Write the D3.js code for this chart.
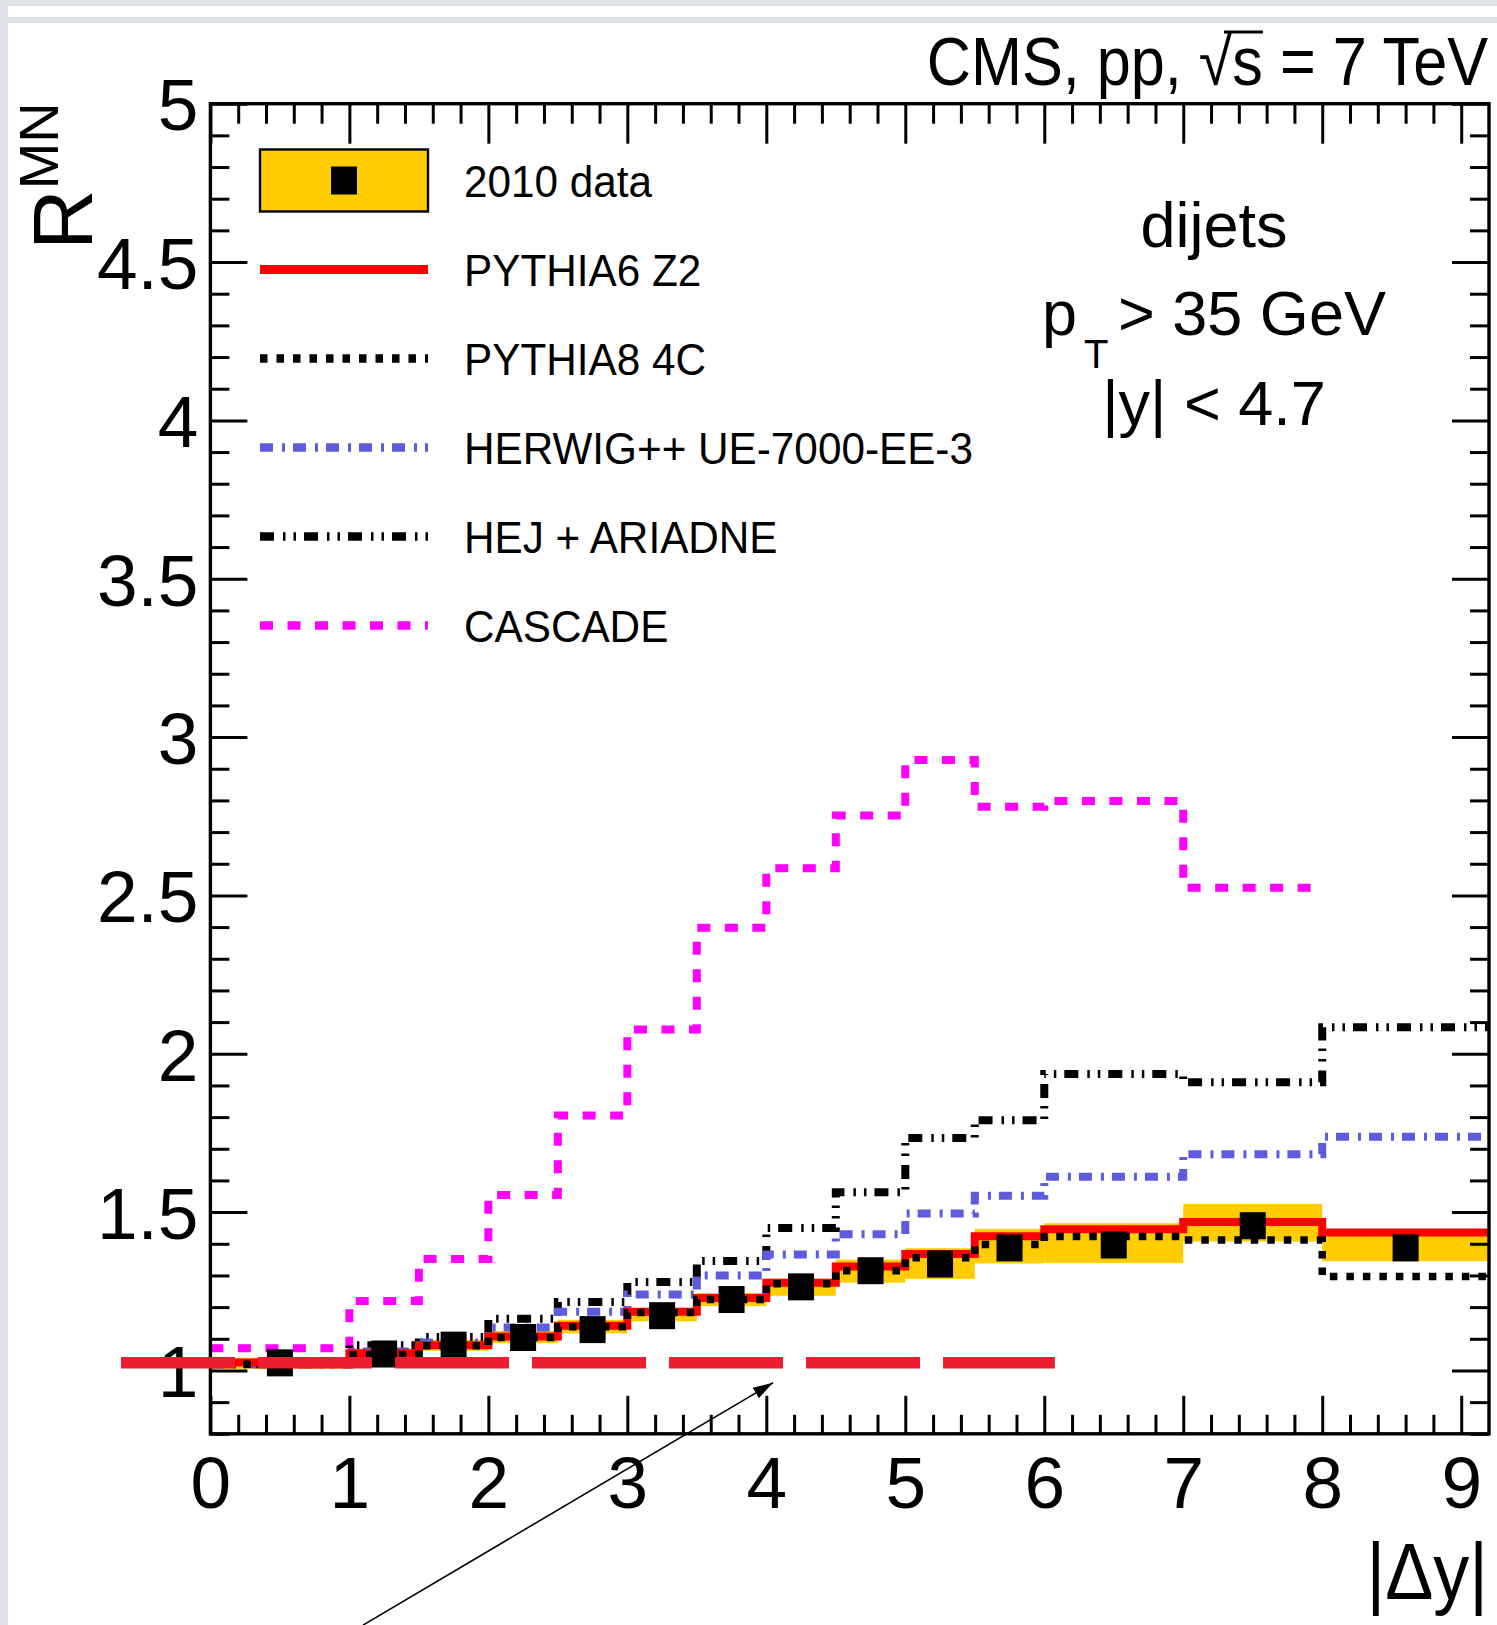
<!DOCTYPE html>
<html>
<head>
<meta charset="utf-8">
<title>R MN vs |Δy|</title>
<script src="https://cdn.jsdelivr.net/npm/d3@7"></script>
<style>
  html, body { margin: 0; padding: 0; background: #fff; }
  svg { display: block; font-family: "Liberation Sans", Arial, Helvetica, sans-serif; }
</style>
</head>
<body>
<div id="chart"></div>
<script>
// bin edges in |Δy|
const binEdges = [0, 1, 1.5, 2, 2.5, 3, 3.5, 4, 4.5, 5, 5.5, 6, 7, 8, 9.2];

// 2010 data: marker positions, values and uncertainty band
const dataX = [0.5, 1.25, 1.75, 2.25, 2.75, 3.25, 3.75, 4.25, 4.75, 5.25, 5.75, 6.5, 7.5, 8.6];
const dataR = [1.024, 1.052, 1.080, 1.104, 1.129, 1.173, 1.224, 1.264, 1.315, 1.336, 1.387, 1.396, 1.457, 1.387];
const dataLow = [1.005, 1.038, 1.062, 1.086, 1.117, 1.155, 1.203, 1.236, 1.277, 1.289, 1.338, 1.339, 1.407, 1.345];
const dataHigh = [1.040, 1.068, 1.097, 1.125, 1.160, 1.195, 1.245, 1.290, 1.350, 1.386, 1.447, 1.465, 1.526, 1.430];

// model predictions per bin
const pythia6 = [1.025, 1.054, 1.080, 1.107, 1.141, 1.185, 1.229, 1.277, 1.328, 1.368, 1.424, 1.446, 1.469, 1.436];
const pythia8 = [1.020, 1.050, 1.078, 1.104, 1.138, 1.183, 1.224, 1.274, 1.315, 1.356, 1.398, 1.423, 1.412, 1.297];
const herwig  = [1.020, 1.060, 1.088, 1.136, 1.185, 1.240, 1.300, 1.366, 1.430, 1.496, 1.552, 1.612, 1.683, 1.738];
const hej     = [1.020, 1.080, 1.106, 1.163, 1.216, 1.279, 1.346, 1.450, 1.563, 1.734, 1.790, 1.936, 1.910, 2.084];
const cascade = [1.070, 1.219, 1.352, 1.554, 1.805, 2.077, 2.398, 2.586, 2.752, 2.928, 2.780, 2.798, 2.524];

// annotations drawn over the plot (in data coordinates)
const refLineX = [-0.643, 6.076];
const refLineY = 1.024;
const arrowFrom = [1.098, 0.196];
const arrowTo = [4.048, 0.961];

const xTicks = [0, 1, 2, 3, 4, 5, 6, 7, 8, 9];
const yTicks = [1, 1.5, 2, 2.5, 3, 3.5, 4, 4.5, 5];
const legendLabels = ["2010 data", "PYTHIA6 Z2", "PYTHIA8 4C", "HERWIG++ UE-7000-EE-3", "HEJ + ARIADNE", "CASCADE"];

const W = 1497, H = 1625;
const padL = 210.4, padR = 1489, padT = 103.7, padB = 1433.8;

const x = d3.scaleLinear().domain([0, 9.2]).range([padL, padR]);
const y = d3.scaleLinear().domain([0.8, 5]).range([padB, padT]);

const svg = d3.select("#chart").append("svg")
  .attr("width", W).attr("height", H)
  .attr("viewBox", [0, 0, W, H]);

// page border strips
const grey = "#dee1e6";
svg.append("rect").attr("width", W).attr("height", H).attr("fill", "#fff");
svg.append("rect").attr("x", 0).attr("y", 0).attr("width", W).attr("height", 6).attr("fill", grey);
svg.append("rect").attr("x", 0).attr("y", 17).attr("width", W).attr("height", 6).attr("fill", grey);
svg.append("rect").attr("x", 0).attr("y", 0).attr("width", 8).attr("height", H).attr("fill", grey);

svg.append("clipPath").attr("id", "frame")
  .append("rect").attr("x", padL).attr("y", padT).attr("width", padR - padL).attr("height", padB - padT);

const plot = svg.append("g").attr("clip-path", "url(#frame)");

// yellow uncertainty band
plot.append("g").selectAll("rect")
  .data(dataLow.map((lo, i) => ({ x0: binEdges[i], x1: binEdges[i + 1], lo, hi: dataHigh[i] })))
  .join("rect")
  .attr("x", d => x(d.x0))
  .attr("width", d => x(d.x1) - x(d.x0))
  .attr("y", d => y(d.hi))
  .attr("height", d => y(d.lo) - y(d.hi))
  .attr("fill", "#ffcc00");

const stepPoints = vals => vals.flatMap((v, i) => [[binEdges[i], v], [binEdges[i + 1], v]]);
const line = d3.line().x(d => x(d[0])).y(d => y(d[1]));

const series = [
  { vals: cascade, color: "#ff00ff", dash: "13 14.5", width: 8 },
  { vals: hej, color: "#000", dash: "14 9 2.5 8 2.5 8", width: 8 },
  { vals: herwig, color: "#5c5cdc", dash: "13 9 3 8", width: 8 },
  { vals: pythia6, color: "#ff0000", dash: null, width: 8 },
  { vals: pythia8, color: "#000", dash: "7.5 9", width: 7.5 }
];

plot.append("g").selectAll("path")
  .data(series)
  .join("path")
  .attr("fill", "none")
  .attr("stroke", d => d.color)
  .attr("stroke-width", d => d.width)
  .attr("stroke-dasharray", d => d.dash)
  .attr("d", d => line(stepPoints(d.vals)));

// data markers
plot.append("g").selectAll("rect")
  .data(dataX.map((v, i) => [v, dataR[i]]))
  .join("rect")
  .attr("x", d => x(d[0]) - 13)
  .attr("y", d => y(d[1]) - 13.5)
  .attr("width", 26).attr("height", 27)
  .attr("fill", "#000");

// ticks (inward, ROOT style)
function styleTicks(g) {
  g.select(".domain").remove();
  g.selectAll(".tick line").attr("stroke", "#000").attr("stroke-width", 3);
}
const xMinor = d3.range(0, 47).map(i => i / 5).filter(v => v < 9.15 && Math.abs(v - Math.round(v)) > 1e-6);
const yMinor = d3.range(8, 51).map(i => i / 10).filter(v => Math.round(v * 10) % 5 !== 0);

svg.append("g").attr("transform", `translate(0,${padB})`)
  .call(d3.axisBottom(x).tickValues(xTicks).tickSize(-38).tickFormat(d3.format("d")))
  .call(styleTicks)
  .call(g => g.selectAll("text").attr("y", 74).attr("dy", null)
    .attr("font-size", 73).attr("fill", "#000").attr("font-family", "Liberation Sans, Arial, sans-serif"));
svg.append("g").attr("transform", `translate(0,${padB})`)
  .call(d3.axisBottom(x).tickValues(xMinor).tickSize(-19).tickFormat(""))
  .call(styleTicks);
svg.append("g").attr("transform", `translate(0,${padT})`)
  .call(d3.axisTop(x).tickValues(xTicks).tickSize(-40).tickFormat(""))
  .call(styleTicks);
svg.append("g").attr("transform", `translate(0,${padT})`)
  .call(d3.axisTop(x).tickValues(xMinor).tickSize(-20).tickFormat(""))
  .call(styleTicks);

svg.append("g").attr("transform", `translate(${padL},0)`)
  .call(d3.axisLeft(y).tickValues(yTicks).tickSize(-37).tickFormat(d => String(d)))
  .call(styleTicks)
  .call(g => g.selectAll("text").attr("x", -12).attr("dy", "0.36em")
    .attr("font-size", 73).attr("fill", "#000").attr("font-family", "Liberation Sans, Arial, sans-serif"));
svg.append("g").attr("transform", `translate(${padL},0)`)
  .call(d3.axisLeft(y).tickValues(yMinor).tickSize(-19).tickFormat(""))
  .call(styleTicks);
svg.append("g").attr("transform", `translate(${padR},0)`)
  .call(d3.axisRight(y).tickValues(yTicks).tickSize(-37).tickFormat(""))
  .call(styleTicks);
svg.append("g").attr("transform", `translate(${padR},0)`)
  .call(d3.axisRight(y).tickValues(yMinor).tickSize(-19).tickFormat(""))
  .call(styleTicks);

// frame
svg.append("rect")
  .attr("x", padL).attr("y", padT).attr("width", padR - padL).attr("height", padB - padT)
  .attr("fill", "none").attr("stroke", "#000").attr("stroke-width", 3.4);

// legend
const legend = svg.append("g");
const legX0 = 260, legX1 = 428, legTop = 180.5, legStep = 89, legText = 464;
const legendStyles = [null, series[3], series[4], series[2], series[1], series[0]];
legendLabels.forEach((label, i) => {
  const cy = legTop + i * legStep;
  if (i === 0) {
    legend.append("rect").attr("x", legX0).attr("y", cy - 31).attr("width", legX1 - legX0).attr("height", 62)
      .attr("fill", "#ffcc00").attr("stroke", "#000").attr("stroke-width", 2.4);
    legend.append("rect").attr("x", (legX0 + legX1) / 2 - 13).attr("y", cy - 14).attr("width", 26).attr("height", 28)
      .attr("fill", "#000");
  } else {
    const s = legendStyles[i];
    legend.append("line").attr("x1", legX0).attr("x2", legX1).attr("y1", cy).attr("y2", cy)
      .attr("stroke", s.color).attr("stroke-width", i === 1 ? 9 : 8.5).attr("stroke-dasharray", s.dash);
  }
  legend.append("text")
    .attr("transform", `translate(${legText},${cy + 16}) scale(0.95,1)`)
    .attr("font-size", 44.5).attr("fill", "#000")
    .text(label);
});

// top label with sqrt(s)
const topG = svg.append("g").attr("transform", "translate(1488,85) scale(0.9,1)");
const topStr = "CMS, pp, \u221As = 7 TeV";
const topText = topG.append("text").attr("text-anchor", "end").attr("font-size", 68).attr("fill", "#000")
  .text(topStr);
{
  const iRad = topStr.indexOf("\u221A");
  const rad = topText.node().getExtentOfChar(iRad);
  const sEx = topText.node().getExtentOfChar(iRad + 1);
  topG.append("line")
    .attr("x1", rad.x + rad.width * 0.75).attr("x2", sEx.x + sEx.width)
    .attr("y1", -53).attr("y2", -53)
    .attr("stroke", "#000").attr("stroke-width", 3);
}

// text block
svg.append("text").attr("x", 1214).attr("y", 247).attr("text-anchor", "middle")
  .attr("font-size", 63).attr("fill", "#000").text("dijets");
const pt = svg.append("text").attr("y", 335).attr("font-size", 63).attr("fill", "#000");
pt.append("tspan").attr("x", 1042).text("p");
pt.append("tspan").attr("x", 1084).attr("dy", 33).attr("font-size", 40).text("T");
pt.append("tspan").attr("x", 1118).attr("dy", -33).text("> 35 GeV");
svg.append("text").attr("x", 1214).attr("y", 425).attr("text-anchor", "middle")
  .attr("font-size", 63).attr("fill", "#000").text("|y| < 4.7");

// axis titles
const yt = svg.append("text").attr("transform", "translate(92,250) rotate(-90)")
  .attr("font-size", 84).attr("fill", "#000");
yt.append("tspan").text("R");
yt.append("tspan").attr("dy", -34).attr("font-size", 56).text("MN");

svg.append("text").attr("transform", "translate(1488,1599) scale(0.9,1)")
  .attr("text-anchor", "end").attr("font-size", 80).attr("fill", "#000").text("|\u0394y|");

// red dashed reference line (drawn on top, not clipped)
svg.append("line")
  .attr("x1", x(refLineX[0])).attr("x2", x(refLineX[1]))
  .attr("y1", y(refLineY)).attr("y2", y(refLineY))
  .attr("stroke", "#ed1c2e").attr("stroke-width", 11.5).attr("stroke-dasharray", "114 23");

// arrow
svg.append("defs").append("marker")
  .attr("id", "arrowhead").attr("markerUnits", "userSpaceOnUse")
  .attr("viewBox", "0 0 20 12").attr("refX", 20).attr("refY", 6)
  .attr("markerWidth", 20).attr("markerHeight", 12).attr("orient", "auto")
  .append("path").attr("d", "M0,0L20,6L0,12Z").attr("fill", "#000");
svg.append("line")
  .attr("x1", x(arrowFrom[0])).attr("y1", y(arrowFrom[1]))
  .attr("x2", x(arrowTo[0])).attr("y2", y(arrowTo[1]))
  .attr("stroke", "#000").attr("stroke-width", 1.6)
  .attr("marker-end", "url(#arrowhead)");
</script>
</body>
</html>
